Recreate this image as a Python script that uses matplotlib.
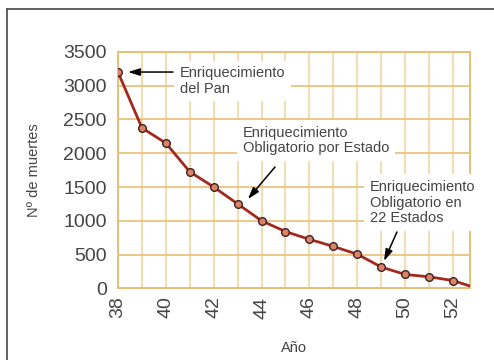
import matplotlib
matplotlib.use("Agg")
import matplotlib.pyplot as plt
from matplotlib.lines import Line2D

# yearly deaths (year 19xx)
years = [38, 39, 40, 41, 42, 43, 44, 45, 46, 47, 48, 49, 50, 51, 52, 53]
deaths = [3200, 2375, 2150, 1725, 1500, 1250, 1000, 840, 725, 620, 505, 315, 205, 170, 115, 0]
year_ticks = [38, 40, 42, 44, 46, 48, 50, 52]
death_ticks = [0, 500, 1000, 1500, 2000, 2500, 3000, 3500]

plt.rcParams['font.family'] = ['Liberation Sans', 'DejaVu Sans']
txt = '#444444'
tan = '#E8BF74'
tan_light = '#F1DDB0'

fig = plt.figure(figsize=(4.94, 3.6), dpi=100)
ax = fig.add_axes([0.2389, 0.1992, 0.7119, 0.6564])

# frame round the figure (top and left only visible)
fig.add_artist(Line2D([7/494, 7/494], [0, 1 - 9/360], color='#555555', lw=1.3))
fig.add_artist(Line2D([7/494, 1], [1 - 9/360, 1 - 9/360], color='#555555', lw=1.3))

for yr in range(39, 53):
  ax.axvline(yr, color=tan_light, lw=1.4, zorder=0)
for d in death_ticks[1:]:
  ax.axhline(d, color=tan, lw=1.2, zorder=0)

ax.plot(years, deaths, color='#A3291C', lw=2, zorder=3,
        marker='o', markersize=5.5, markerfacecolor='#DB8268',
        markeredgecolor='#3a2220', markeredgewidth=1, markevery=list(range(15)))

ax.set_xlim(38, 52.7)
ax.set_ylim(0, 3500)
ax.set_xticks(year_ticks)
ax.set_yticks(death_ticks)
ax.tick_params(length=0, labelsize=14, labelcolor=txt)
ax.tick_params(axis='y', pad=8)
ax.tick_params(axis='x', pad=6, labelrotation=90)
for s in ax.spines.values():
  s.set_color(tan)
  s.set_linewidth(1.4)

ax.set_xlabel('Año', fontsize=10.5, color=txt, labelpad=16)
ax.set_ylabel('Nº de muertes', fontsize=10.5, color=txt, labelpad=16)

box = dict(fc='white', ec='none', pad=4)
arrow = dict(arrowstyle='-|>,head_length=0.7,head_width=0.22', color='black', lw=1.1,
             shrinkA=0, shrinkB=0)

ax.text(40.59, 3070, 'Enriquecimiento\ndel Pan', fontsize=10.5, color=txt,
        va='center', ha='left', bbox=box, zorder=4, linespacing=1.15)
ax.annotate('', xy=(38.42, 3203), xytext=(40.30, 3203), arrowprops=arrow, zorder=5)

ax.text(43.22, 2189, 'Enriquecimiento\nObligatorio por Estado', fontsize=10.5, color=txt,
        va='center', ha='left', bbox=box, zorder=4, linespacing=1.15)
ax.annotate('', xy=(43.43, 1322), xytext=(44.56, 1796), arrowprops=arrow, zorder=5)

ax.text(48.53, 1268, 'Enriquecimiento\nObligatorio en\n22 Estados', fontsize=10.5, color=txt,
        va='center', ha='left', bbox=box, zorder=4, linespacing=1.15)
ax.annotate('', xy=(49.12, 404), xytext=(49.66, 834), arrowprops=arrow, zorder=5)

fig.savefig('out.png', dpi=100)
